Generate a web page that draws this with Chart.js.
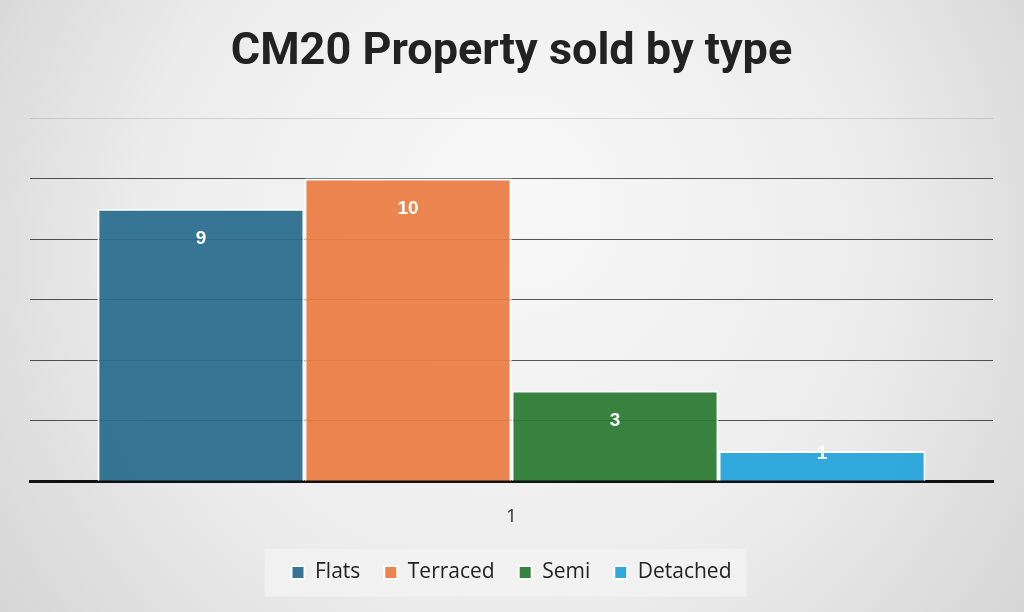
<!DOCTYPE html>
<html>
<head>
<meta charset="utf-8">
<style>
html,body{margin:0;padding:0;background:#e4e4e4;}
#wrap{width:1024px;height:612px;}
</style>
<script src="https://cdn.jsdelivr.net/npm/chart.js@4.4.0/dist/chart.umd.min.js"></script>
</head>
<body>
<div id="wrap"><canvas id="c" width="1024" height="612"></canvas></div>
<script>
const categories = ['1'];
const seriesNames = ['Flats', 'Terraced', 'Semi', 'Detached'];
const seriesValues = [[9], [10], [3], [1]];
const seriesColors = ['rgba(40,108,140,0.93)', 'rgba(235,124,66,0.93)', 'rgba(40,122,48,0.93)', 'rgba(36,164,218,0.93)'];
const yMax = 12;
const yStep = 2;

const bgPlugin = {
  id: 'bg',
  beforeDraw(chart) {
    const ctx = chart.ctx, w = chart.width, h = chart.height;
    ctx.save();
    const g = ctx.createRadialGradient(w * 0.5, h * 0.32, 40, w * 0.5, h * 0.45, w * 0.62);
    g.addColorStop(0, '#f7f7f7');
    g.addColorStop(0.55, '#ececec');
    g.addColorStop(1, '#d4d4d4');
    ctx.fillStyle = g;
    ctx.fillRect(0, 0, w, h);
    const lg = chart.legend;
    if (lg && lg.legendHitBoxes && lg.legendHitBoxes.length) {
      let l = Infinity, r = -Infinity, t = Infinity, b = -Infinity;
      lg.legendHitBoxes.forEach(hb => {
        l = Math.min(l, hb.left); r = Math.max(r, hb.left + hb.width);
        t = Math.min(t, hb.top); b = Math.max(b, hb.top + hb.height);
      });
      const cy = (t + b) / 2;
      ctx.fillStyle = 'rgba(242,242,242,0.9)';
      ctx.fillRect(l - 27, cy - 24, (r - l) + 42, 48);
    }
    ctx.restore();
  }
};

const labelPlugin = {
  id: 'barLabels',
  afterDatasetsDraw(chart) {
    const ctx = chart.ctx;
    ctx.save();
    ctx.font = 'bold 19px "Liberation Sans", Arial, sans-serif';
    ctx.fillStyle = '#ffffff';
    ctx.textAlign = 'center';
    ctx.textBaseline = 'middle';
    chart.data.datasets.forEach((ds, i) => {
      const meta = chart.getDatasetMeta(i);
      meta.data.forEach((el, j) => {
        const hgt = el.base - el.y;
        const y = hgt > 60 ? el.y + 30 : el.y + 3;
        ctx.fillText(String(ds.data[j]), el.x, y);
      });
    });
    ctx.restore();
  }
};

new Chart(document.getElementById('c'), {
  type: 'bar',
  data: {
    labels: categories,
    datasets: seriesNames.map((n, i) => ({
      label: n,
      data: seriesValues[i],
      backgroundColor: seriesColors[i],
      borderColor: '#ffffff',
      borderWidth: 2,
      categoryPercentage: 0.86,
      barPercentage: 1.0
    }))
  },
  options: {
    responsive: false,
    animation: false,
    devicePixelRatio: 1,
    layout: { padding: { left: 30, right: 31, top: 0, bottom: 19 } },
    scales: {
      x: {
        grid: { display: false },
        border: { display: true, color: '#111', width: 3 },
        ticks: { color: '#333', font: { family: '"Open Sans", sans-serif', size: 19 }, padding: 16 },
        afterFit: (scale) => { scale.height = scale.height - 6; }
      },
      y: {
        min: 0, max: yMax,
        ticks: { display: false, stepSize: yStep },
        border: { display: false },
        grid: {
          color: (c) => c.tick && c.tick.value === yMax ? 'rgba(0,0,0,0.12)' : 'rgba(30,30,30,0.75)',
          lineWidth: 1,
          drawTicks: false
        }
      }
    },
    plugins: {
      title: {
        display: true,
        text: 'CM20 Property sold by type',
        color: '#222',
        font: { family: 'Roboto, sans-serif', size: 45, weight: 'bold' },
        padding: { top: 26, bottom: 38 }
      },
      legend: {
        position: 'bottom',
        labels: {
          color: '#222',
          boxWidth: 13, boxHeight: 13,
          font: { family: '"Open Sans", sans-serif', size: 21 },
          padding: 24
        }
      },
      tooltip: { enabled: false }
    }
  },
  plugins: [bgPlugin, labelPlugin]
});
</script>
</body>
</html>
